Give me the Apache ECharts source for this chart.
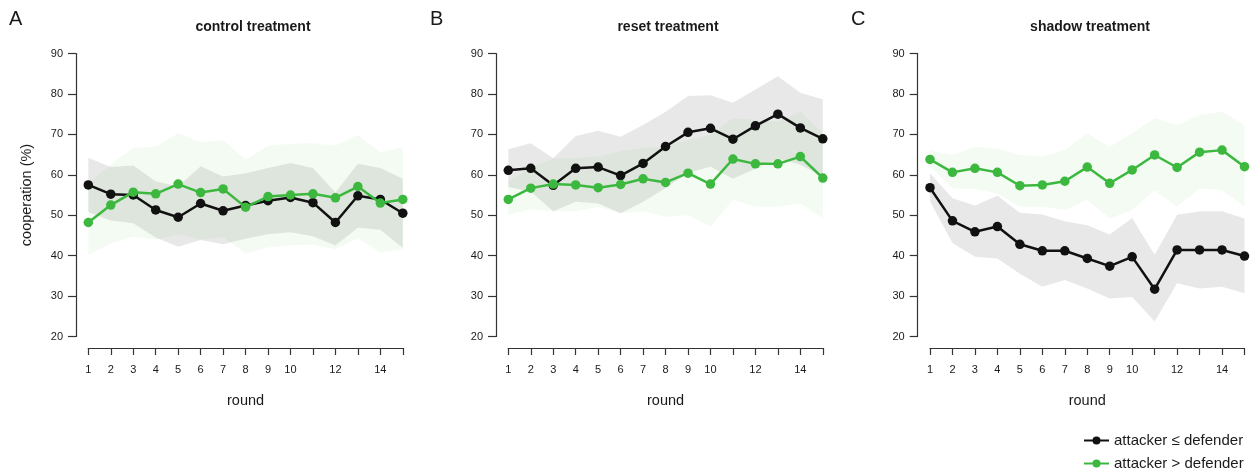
<!DOCTYPE html>
<html>
<head>
<meta charset="utf-8">
<script src="https://cdn.jsdelivr.net/npm/echarts@6/dist/echarts.min.js"></script>
<style>
  html, body { margin: 0; padding: 0; background: #fff; }
  #chart { width: 1250px; height: 472px; }
</style>
</head>
<body>
<div id="chart"></div>
<script>
// rounds and tick labels (R skipped labels 11, 13, 15)
const rounds = [1, 2, 3, 4, 5, 6, 7, 8, 9, 10, 11, 12, 13, 14, 15];
const roundLabels = ['1', '2', '3', '4', '5', '6', '7', '8', '9', '10', '', '12', '', '14', ''];
const yTicks = [20, 30, 40, 50, 60, 70, 80, 90];

const panelLetters = ['A', 'B', 'C'];
const panelTitles = ['control treatment', 'reset treatment', 'shadow treatment'];
const seriesNames = ['attacker \u2264 defender', 'attacker > defender'];

// control treatment
const controlLe = [57.5, 55.2, 55.0, 51.3, 49.5, 52.9, 51.1, 52.4, 53.6, 54.4, 53.1, 48.2, 54.8, 53.9, 50.5];
const controlGt = [48.2, 52.5, 55.7, 55.3, 57.7, 55.6, 56.5, 52.0, 54.6, 55.0, 55.3, 54.3, 57.1, 53.0, 53.9];
const controlLeLo = [50.8, 48.7, 48.0, 44.5, 42.2, 43.9, 42.8, 44.2, 45.3, 45.8, 44.8, 42.5, 46.9, 46.4, 41.9];
const controlLeHi = [64.2, 61.9, 62.3, 58.4, 57.1, 62.1, 59.6, 60.4, 61.7, 62.9, 61.7, 55.6, 62.7, 61.7, 59.0];
const controlGtLo = [40.2, 43.0, 44.7, 44.0, 45.3, 44.0, 44.6, 40.5, 42.0, 42.6, 42.7, 41.6, 44.3, 40.8, 41.5];
const controlGtHi = [58.0, 62.5, 66.6, 67.0, 70.3, 68.0, 68.6, 63.7, 67.2, 67.7, 67.8, 67.2, 69.9, 65.5, 66.8];

// reset treatment
const resetLe = [61.1, 61.6, 57.4, 61.6, 61.9, 59.8, 62.8, 67.0, 70.5, 71.5, 68.8, 72.1, 75.0, 71.6, 68.9];
const resetGt = [53.9, 56.7, 57.7, 57.5, 56.8, 57.6, 59.0, 58.1, 60.4, 57.7, 63.9, 62.7, 62.7, 64.5, 59.2];
const resetLeLo = [57.0, 55.8, 51.0, 53.3, 52.9, 50.5, 53.3, 56.7, 60.5, 62.0, 59.0, 61.5, 64.0, 62.5, 59.5];
const resetLeHi = [66.3, 67.8, 64.1, 69.6, 70.9, 69.4, 72.3, 75.6, 79.5, 79.7, 77.8, 81.1, 84.4, 80.3, 78.7];
const resetGtLo = [50.1, 51.5, 50.9, 51.0, 52.1, 50.5, 51.0, 49.6, 50.0, 47.2, 53.8, 52.1, 52.1, 52.9, 49.2];
const resetGtHi = [58.4, 61.7, 64.1, 64.1, 64.5, 65.8, 66.6, 67.0, 68.6, 69.9, 74.0, 73.6, 73.2, 75.6, 70.3];

// shadow treatment
const shadowLe = [56.8, 48.6, 45.9, 47.2, 42.8, 41.2, 41.2, 39.3, 37.4, 39.7, 31.7, 41.4, 41.4, 41.4, 39.9];
const shadowGt = [63.8, 60.6, 61.6, 60.6, 57.3, 57.5, 58.4, 61.9, 57.9, 61.2, 64.9, 61.8, 65.6, 66.1, 62.0];
const shadowLeLo = [53.4, 43.1, 39.7, 39.3, 35.5, 32.3, 34.0, 31.9, 29.4, 29.8, 23.7, 33.2, 31.9, 32.3, 30.7];
const shadowLeHi = [60.4, 54.2, 52.4, 54.8, 50.6, 50.2, 48.5, 47.5, 45.2, 49.3, 40.2, 50.1, 50.9, 51.0, 49.2];
const shadowGtLo = [62.1, 56.7, 56.5, 55.4, 52.1, 52.1, 51.3, 53.8, 49.2, 51.3, 56.2, 52.1, 56.7, 56.2, 52.1];
const shadowGtHi = [66.0, 64.9, 66.9, 66.5, 64.9, 64.5, 66.1, 70.3, 66.9, 70.3, 74.0, 72.3, 74.8, 75.6, 72.3];

const panels = [
  { le: controlLe, gt: controlGt, leLo: controlLeLo, leHi: controlLeHi, gtLo: controlGtLo, gtHi: controlGtHi },
  { le: resetLe, gt: resetGt, leLo: resetLeLo, leHi: resetLeHi, gtLo: resetGtLo, gtHi: resetGtHi },
  { le: shadowLe, gt: shadowGt, leLo: shadowLeLo, leHi: shadowLeHi, gtLo: shadowGtLo, gtHi: shadowGtHi },
];

const BLACK = '#111111';
const GREEN = '#3db83f';
const AXIS = '#333333';
const TEXT = '#1a1a1a';
const FONT = '"Liberation Sans", Arial, Helvetica, sans-serif';

const gridLefts = [88.3, 508.3, 930];
const gridWidth = 314.5;

const grids = [];
const xAxes = [];
const yAxes = [];
const series = [];
const titles = [];

// confidence band = invisible lower line + stacked (upper - lower) area
function band(i, lo, hi, key, color, z) {
  return [
    {
      type: 'line', xAxisIndex: i, yAxisIndex: i, stack: key + i,
      data: lo, symbol: 'none', silent: true, z: z,
      lineStyle: { opacity: 0 },
    },
    {
      type: 'line', xAxisIndex: i, yAxisIndex: i, stack: key + i,
      data: hi.map((v, k) => +(v - lo[k]).toFixed(2)), symbol: 'none', silent: true, z: z,
      lineStyle: { opacity: 0 },
      areaStyle: { color: color, opacity: 1 },
    },
  ];
}

panels.forEach((p, i) => {
  grids.push({ left: gridLefts[i], width: gridWidth, top: 53.5, height: 283 });

  xAxes.push({
    type: 'category',
    gridIndex: i,
    data: rounds,
    boundaryGap: false,
    offset: 11.5,
    name: 'round',
    nameLocation: 'middle',
    nameGap: 45,
    nameTextStyle: { fontSize: 14.5, color: TEXT },
    axisLine: { lineStyle: { color: AXIS, width: 1.2 } },
    axisTick: { show: true, interval: 0, length: 7, lineStyle: { color: AXIS, width: 1.2 } },
    axisLabel: {
      interval: 0, margin: 16, fontSize: 11, color: TEXT,
      formatter: (v, idx) => roundLabels[idx],
    },
    splitLine: { show: false },
  });

  yAxes.push({
    type: 'value',
    gridIndex: i,
    min: yTicks[0],
    max: yTicks[yTicks.length - 1],
    interval: 10,
    offset: 12.3,
    name: i === 0 ? 'cooperation (%)' : '',
    nameLocation: 'middle',
    nameGap: 42,
    nameTextStyle: { fontSize: 14.5, color: TEXT },
    axisLine: { show: true, lineStyle: { color: AXIS, width: 1.2 } },
    axisTick: { show: true, length: 8, lineStyle: { color: AXIS, width: 1.2 } },
    axisLabel: { margin: 13, fontSize: 11, color: TEXT },
    splitLine: { show: false },
  });

  series.push(...band(i, p.leLo, p.leHi, 'le', 'rgba(0,0,0,0.09)', 1));
  series.push(...band(i, p.gtLo, p.gtHi, 'gt', 'rgba(70,200,70,0.065)', 2));

  series.push({
    name: seriesNames[0], type: 'line', xAxisIndex: i, yAxisIndex: i,
    data: p.le, symbol: 'circle', symbolSize: 9.5, z: 3,
    itemStyle: { color: BLACK }, lineStyle: { color: BLACK, width: 2.5 },
  });
  series.push({
    name: seriesNames[1], type: 'line', xAxisIndex: i, yAxisIndex: i,
    data: p.gt, symbol: 'circle', symbolSize: 9.5, z: 4,
    itemStyle: { color: GREEN }, lineStyle: { color: GREEN, width: 2.5 },
  });

  titles.push({
    text: panelLetters[i], left: [9, 430, 851][i], top: 9, padding: 0,
    textStyle: { fontSize: 20, fontWeight: 'normal', color: TEXT, fontFamily: FONT },
  });
  titles.push({
    text: panelTitles[i], left: [253, 668, 1090][i], top: 20, padding: 0, textAlign: 'center',
    textStyle: { fontSize: 14, fontWeight: 'bold', color: TEXT, fontFamily: FONT },
  });
});

const chart = echarts.init(document.getElementById('chart'));
chart.setOption({
  animation: false,
  backgroundColor: '#ffffff',
  textStyle: { fontFamily: FONT },
  title: titles,
  grid: grids,
  xAxis: xAxes,
  yAxis: yAxes,
  legend: {
    data: seriesNames,
    orient: 'vertical',
    left: 1083,
    top: 433,
    padding: 0,
    itemWidth: 25,
    itemHeight: 10,
    itemGap: 8,
    textStyle: { fontSize: 15, color: TEXT },
  },
  series: series,
});
</script>
</body>
</html>
